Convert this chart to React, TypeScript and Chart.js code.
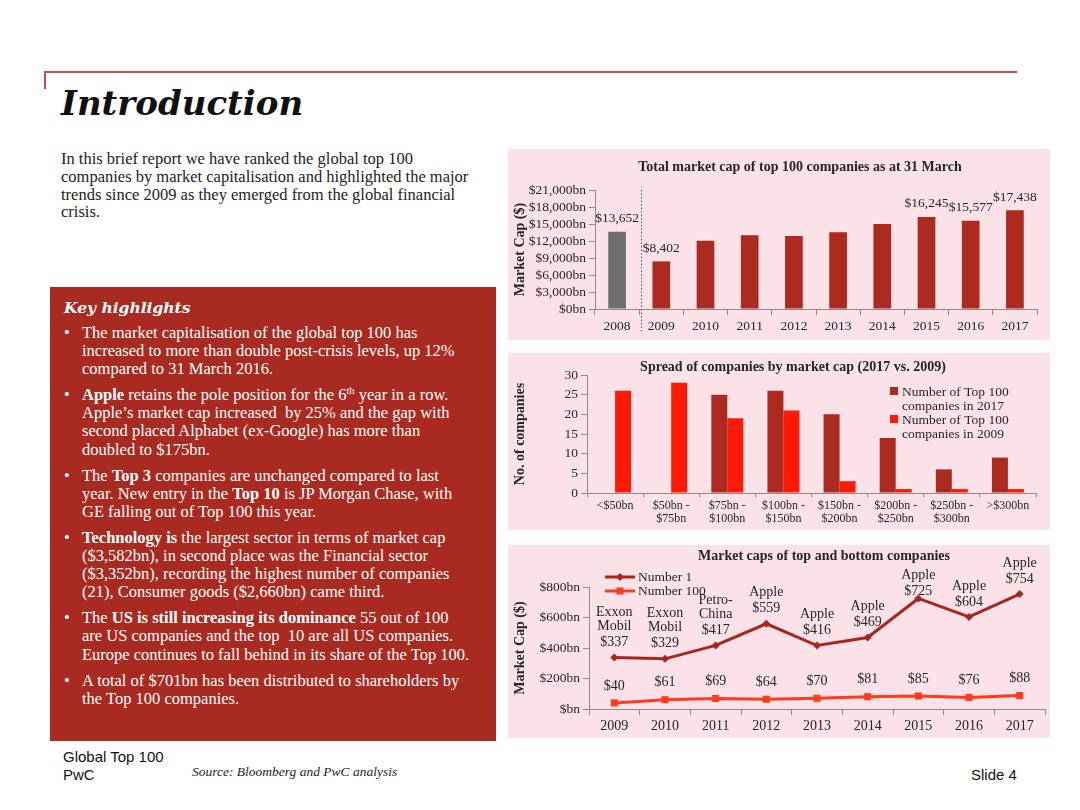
import React, { useEffect, useRef } from "react";
import { Chart, registerables } from "chart.js";

Chart.register(...registerables);

// ---------- data ----------
const capYears = ["2008", "2009", "2010", "2011", "2012", "2013", "2014", "2015", "2016", "2017"];
const capValues = [13652, 8402, 12050, 13000, 12880, 13530, 15000, 16245, 15577, 17438];
const capValueLabels = ["$13,652", "$8,402", "", "", "", "", "", "$16,245", "$15,577", "$17,438"];
const capTickLabels = ["$0bn", "$3,000bn", "$6,000bn", "$9,000bn", "$12,000bn", "$15,000bn", "$18,000bn", "$21,000bn"];

const spreadBands = [
  ["<$50bn"],
  ["$50bn -", "$75bn"],
  ["$75bn -", "$100bn"],
  ["$100bn -", "$150bn"],
  ["$150bn -", "$200bn"],
  ["$200bn -", "$250bn"],
  ["$250bn -", "$300bn"],
  [">$300bn"],
];
const companies2017 = [0, 0, 25, 26, 20, 14, 6, 9];
const companies2009 = [26, 28, 19, 21, 3, 1, 1, 1];
const spreadLegend = [
  ["Number of Top 100", "companies in 2017"],
  ["Number of Top 100", "companies in 2009"],
];

const topYears = ["2009", "2010", "2011", "2012", "2013", "2014", "2015", "2016", "2017"];
const number1Values = [337, 329, 417, 559, 416, 469, 725, 604, 754];
const number1Names = [
  ["Exxon", "Mobil"],
  ["Exxon", "Mobil"],
  ["Petro-", "China"],
  ["Apple"],
  ["Apple"],
  ["Apple"],
  ["Apple"],
  ["Apple"],
  ["Apple"],
];
const number100Values = [40, 61, 69, 64, 70, 81, 85, 76, 88];
const topTickLabels = ["$bn", "$200bn", "$400bn", "$600bn", "$800bn"];

// ---------- styles ----------
const SERIF = "'Liberation Serif', 'Times New Roman', serif";
const DSERIF = "'DejaVu Serif', serif";
const SANS = "'Liberation Sans', Arial, sans-serif";
const TEXT = "#262626";
const AXIS = "#8c8c8c";
const PINK = "#FBE2E8";
const BOX_RED = "#A92A20";
const BAR_RED = "#AD2A21";
const BAR_GRAY = "#6E6E6E";
const BRIGHT_RED = "#FF1A05";
const LINE_DARK = "#A8261E";
const LINE_BRIGHT = "#FF3B1C";
const TITLE_FONT = `bold 14px ${SERIF}`;

function titlePlugin(id: string, text: string, x: number, y: number) {
  return {
    id,
    afterDraw(chart: any) {
      const ctx = chart.ctx;
      ctx.save();
      ctx.font = TITLE_FONT;
      ctx.fillStyle = TEXT;
      ctx.textAlign = "center";
      ctx.textBaseline = "middle";
      ctx.fillText(text, x, y);
      ctx.restore();
    },
  };
}

function axisGrid() {
  return { display: true, drawOnChartArea: false, drawTicks: true, tickLength: 6, color: AXIS, lineWidth: 1 };
}

function buildCapChart(): any {
  const overlay = {
    id: "capOverlay",
    afterDatasetsDraw(chart: any) {
      const ctx = chart.ctx;
      const x = chart.scales.x;
      const area = chart.chartArea;
      const meta = chart.getDatasetMeta(0);
      ctx.save();
      const sx = Math.round((x.getPixelForValue(0) + x.getPixelForValue(1)) / 2) + 2.5;
      ctx.strokeStyle = "#555";
      ctx.lineWidth = 1;
      ctx.setLineDash([1.5, 2]);
      ctx.beginPath();
      ctx.moveTo(sx, area.top);
      ctx.lineTo(sx, area.bottom + 22);
      ctx.stroke();
      ctx.setLineDash([]);
      ctx.font = `13.5px ${SERIF}`;
      ctx.fillStyle = TEXT;
      ctx.textAlign = "center";
      ctx.textBaseline = "middle";
      meta.data.forEach((bar: any, i: number) => {
        const t = capValueLabels[i];
        if (t) ctx.fillText(t, bar.x, bar.y - 13);
      });
      ctx.restore();
    },
  };
  return {
    type: "bar",
    data: {
      labels: capYears,
      datasets: [
        {
          data: capValues,
          backgroundColor: capValues.map((_, i) => (i === 0 ? BAR_GRAY : BAR_RED)),
          borderWidth: 0,
          barPercentage: 0.8,
          categoryPercentage: 0.5,
        },
      ],
    },
    options: {
      responsive: false,
      animation: false,
      layout: { padding: { top: 41, right: 13, bottom: 0, left: 0 } },
      plugins: { legend: { display: false }, title: { display: false }, tooltip: { enabled: false } },
      scales: {
        x: {
          grid: { ...axisGrid(), offset: true },
          border: { display: true, color: AXIS },
          ticks: { font: { family: SERIF, size: 13.5 }, color: TEXT, padding: 3 },
          afterFit: (s: any) => {
            s.height = 31;
          },
        },
        y: {
          min: 0,
          max: 21000,
          ticks: {
            stepSize: 3000,
            autoSkip: false,
            font: { family: SERIF, size: 13.5 },
            color: TEXT,
            padding: 3,
            callback: (_v: any, i: number) => capTickLabels[i],
          },
          grid: axisGrid(),
          border: { display: true, color: AXIS },
          title: {
            display: true,
            text: "Market Cap ($)",
            font: { family: SERIF, size: 14, weight: "bold" },
            color: TEXT,
            padding: { top: 4, bottom: 0 },
          },
          afterFit: (s: any) => {
            s.width = 87;
          },
        },
      },
    },
    plugins: [titlePlugin("capTitle", "Total market cap of top 100 companies as at 31 March", 292, 18), overlay],
  };
}

function buildSpreadChart(): any {
  const legend = {
    id: "spreadLegend",
    afterDraw(chart: any) {
      const ctx = chart.ctx;
      ctx.save();
      ctx.font = `13.5px ${SERIF}`;
      ctx.textAlign = "left";
      ctx.textBaseline = "middle";
      const colors = [BAR_RED, BRIGHT_RED];
      spreadLegend.forEach((lines, k) => {
        const y0 = 38 + k * 28;
        ctx.fillStyle = colors[k];
        ctx.fillRect(382, y0 - 4, 8, 8);
        ctx.fillStyle = TEXT;
        lines.forEach((ln, j) => ctx.fillText(ln, 394, y0 + 1 + j * 14));
      });
      ctx.restore();
    },
  };
  return {
    type: "bar",
    data: {
      labels: spreadBands,
      datasets: [
        {
          label: "Number of Top 100 companies in 2017",
          data: companies2017,
          backgroundColor: BAR_RED,
          borderWidth: 0,
          barPercentage: 1,
          categoryPercentage: 0.57,
        },
        {
          label: "Number of Top 100 companies in 2009",
          data: companies2009,
          backgroundColor: BRIGHT_RED,
          borderWidth: 0,
          barPercentage: 1,
          categoryPercentage: 0.57,
        },
      ],
    },
    options: {
      responsive: false,
      animation: false,
      layout: { padding: { top: 22, right: 14, bottom: 0, left: 0 } },
      plugins: { legend: { display: false }, title: { display: false }, tooltip: { enabled: false } },
      scales: {
        x: {
          grid: { ...axisGrid(), tickLength: 4, offset: true },
          border: { display: true, color: AXIS },
          ticks: { font: { family: SERIF, size: 12, lineHeight: 1.1 }, color: TEXT, padding: 2, maxRotation: 0, autoSkip: false },
          afterFit: (s: any) => {
            s.height = 37;
          },
        },
        y: {
          min: 0,
          max: 30,
          ticks: { stepSize: 5, autoSkip: false, font: { family: SERIF, size: 13.5 }, color: TEXT, padding: 3 },
          grid: axisGrid(),
          border: { display: true, color: AXIS },
          title: {
            display: true,
            text: "No. of companies",
            font: { family: SERIF, size: 14, weight: "bold" },
            color: TEXT,
            padding: { top: 4, bottom: 0 },
          },
          afterFit: (s: any) => {
            s.width = 79;
          },
        },
      },
    },
    plugins: [titlePlugin("spreadTitle", "Spread of companies by market cap (2017 vs. 2009)", 285, 14), legend],
  };
}

const TOP_TITLE = "Market caps of top and bottom companies";
const TOP_TITLE_X = 316;
const TOP_TITLE_Y = 11;

function buildTopChart(): any {
  const overlay = {
    id: "topOverlay",
    afterDraw(chart: any) {
      const ctx = chart.ctx;
      ctx.save();
      ctx.font = TITLE_FONT;
      const tw = ctx.measureText(TOP_TITLE).width;
      const tLeft = TOP_TITLE_X - tw / 2 - 10;
      const tRight = TOP_TITLE_X + tw / 2 + 10;
      const minNameY = TOP_TITLE_Y + 19;
      ctx.font = `14px ${SERIF}`;
      ctx.fillStyle = TEXT;
      ctx.textAlign = "center";
      ctx.textBaseline = "middle";
      const m1 = chart.getDatasetMeta(0);
      m1.data.forEach((pt: any, i: number) => {
        const names = number1Names[i];
        let valueY = pt.y - 15;
        let nameY = pt.y - 31;
        const topName = nameY - (names.length - 1) * 14;
        if (pt.x > tLeft && pt.x < tRight && topName < minNameY) {
          const d = minNameY - topName;
          valueY += d;
          nameY += d;
        }
        ctx.fillText("$" + number1Values[i], pt.x, valueY);
        names.forEach((n, j) => {
          ctx.fillText(n, pt.x, nameY - (names.length - 1 - j) * 14);
        });
      });
      const m2 = chart.getDatasetMeta(1);
      m2.data.forEach((pt: any, i: number) => {
        ctx.fillText("$" + number100Values[i], pt.x, pt.y - 17);
      });
      // legend
      const items = [
        { label: "Number 1", color: LINE_DARK, style: "rectRot", y: 32 },
        { label: "Number 100", color: LINE_BRIGHT, style: "rect", y: 46 },
      ];
      ctx.font = `13.5px ${SERIF}`;
      ctx.textAlign = "left";
      items.forEach((it) => {
        ctx.strokeStyle = it.color;
        ctx.lineWidth = 3;
        ctx.beginPath();
        ctx.moveTo(97, it.y);
        ctx.lineTo(127, it.y);
        ctx.stroke();
        ctx.fillStyle = it.color;
        ctx.beginPath();
        if (it.style === "rect") {
          ctx.rect(112 - 3.5, it.y - 3.5, 7, 7);
        } else {
          ctx.moveTo(112, it.y - 4);
          ctx.lineTo(116, it.y);
          ctx.lineTo(112, it.y + 4);
          ctx.lineTo(108, it.y);
          ctx.closePath();
        }
        ctx.fill();
        ctx.fillStyle = TEXT;
        ctx.fillText(it.label, 130, it.y);
      });
      ctx.restore();
    },
  };
  return {
    type: "line",
    data: {
      labels: topYears,
      datasets: [
        {
          label: "Number 1",
          data: number1Values,
          borderColor: LINE_DARK,
          backgroundColor: LINE_DARK,
          borderWidth: 3,
          pointStyle: "rectRot",
          pointRadius: 4,
          pointBorderWidth: 0,
          tension: 0,
        },
        {
          label: "Number 100",
          data: number100Values,
          borderColor: LINE_BRIGHT,
          backgroundColor: LINE_BRIGHT,
          borderWidth: 3,
          pointStyle: "rect",
          pointRadius: 5,
          pointBorderWidth: 0,
          tension: 0,
        },
      ],
    },
    options: {
      responsive: false,
      animation: false,
      layout: { padding: { top: 42, right: 4, bottom: 0, left: 0 } },
      plugins: { legend: { display: false }, title: { display: false }, tooltip: { enabled: false } },
      scales: {
        x: {
          offset: true,
          grid: { ...axisGrid(), offset: true },
          border: { display: true, color: AXIS },
          ticks: { font: { family: SERIF, size: 14 }, color: TEXT, padding: 3, autoSkip: false },
          afterFit: (s: any) => {
            s.height = 29;
          },
        },
        y: {
          min: 0,
          max: 800,
          ticks: {
            stepSize: 200,
            autoSkip: false,
            font: { family: SERIF, size: 13.5 },
            color: TEXT,
            padding: 3,
            callback: (_v: any, i: number) => topTickLabels[i],
          },
          grid: axisGrid(),
          border: { display: true, color: AXIS },
          title: {
            display: true,
            text: "Market Cap ($)",
            font: { family: SERIF, size: 14, weight: "bold" },
            color: TEXT,
            padding: { top: 4, bottom: 0 },
          },
          afterFit: (s: any) => {
            s.width = 81;
          },
        },
      },
    },
    plugins: [titlePlugin("topTitle", TOP_TITLE, TOP_TITLE_X, TOP_TITLE_Y), overlay],
  };
}

function ChartPanel({ left, top, width, height, build }: any) {
  const ref = useRef<HTMLCanvasElement>(null);
  useEffect(() => {
    const chart = new Chart(ref.current as HTMLCanvasElement, build());
    return () => chart.destroy();
  }, []);
  return (
    <div style={{ position: "absolute", left, top, width, height, background: PINK }}>
      <canvas ref={ref} width={width} height={height} style={{ display: "block", width, height }} />
    </div>
  );
}

const introLines = [
  "In this brief report we have ranked the global top 100",
  "companies by market capitalisation and highlighted the major",
  "trends since 2009 as they emerged from the global financial",
  "crisis.",
];

const bullets: React.ReactNode[][] = [
  [
    "The market capitalisation of the global top 100 has",
    "increased to more than double post-crisis levels, up 12%",
    "compared to 31 March 2016.",
  ],
  [
    <>
      <b>Apple</b> retains the pole position for the 6
      <sup style={{ fontSize: 10.5, lineHeight: 0 }}>th</sup> year in a row.
    </>,
    "Apple’s market cap increased  by 25% and the gap with",
    "second placed Alphabet (ex-Google) has more than",
    "doubled to $175bn.",
  ],
  [
    <>
      The <b>Top 3</b> companies are unchanged compared to last
    </>,
    <>
      year. New entry in the <b>Top 10</b> is JP Morgan Chase, with
    </>,
    "GE falling out of Top 100 this year.",
  ],
  [
    <>
      <b>Technology is</b> the largest sector in terms of market cap
    </>,
    "($3,582bn), in second place was the Financial sector",
    "($3,352bn), recording the highest number of companies",
    "(21), Consumer goods ($2,660bn) came third.",
  ],
  [
    <>
      The <b>US is still increasing its dominance</b> 55 out of 100
    </>,
    "are US companies and the top  10 are all US companies.",
    "Europe continues to fall behind in its share of the Top 100.",
  ],
  ["A total of $701bn has been distributed to shareholders by", "the Top 100 companies."],
];

export default function App() {
  return (
    <div
      style={{
        position: "absolute",
        left: 0,
        top: 0,
        width: 1080,
        height: 810,
        overflow: "hidden",
        background: "#fff",
        fontFamily: SERIF,
        color: TEXT,
      }}
    >
      <div style={{ position: "absolute", left: 44, top: 71, width: 973, height: 2, background: "#C0504D" }} />
      <div style={{ position: "absolute", left: 44, top: 71, width: 2, height: 18, background: "#C0504D" }} />

      <div
        style={{
          position: "absolute",
          left: 61,
          top: 83,
          fontFamily: DSERIF,
          fontWeight: "bold",
          fontStyle: "italic",
          fontSize: 34,
          lineHeight: "40px",
          color: "#111",
          whiteSpace: "nowrap",
        }}
      >
        Introduction
      </div>

      <div style={{ position: "absolute", left: 61, top: 150, fontSize: 16.5, lineHeight: "17.8px", color: "#222" }}>
        {introLines.map((l, i) => (
          <div key={i} style={{ whiteSpace: "pre" }}>
            {l}
          </div>
        ))}
      </div>

      <div style={{ position: "absolute", left: 50, top: 287, width: 446, height: 454, background: BOX_RED, color: "#fff" }}>
        <div
          style={{
            position: "absolute",
            left: 14,
            top: 12,
            fontFamily: DSERIF,
            fontWeight: "bold",
            fontStyle: "italic",
            fontSize: 15.5,
            lineHeight: "18px",
            whiteSpace: "nowrap",
          }}
        >
          Key highlights
        </div>
        <div style={{ position: "absolute", left: 0, top: 37, width: 446, fontSize: 16.5, lineHeight: "18.1px" }}>
          {bullets.map((lines, i) => (
            <div key={i} style={{ position: "relative", paddingLeft: 32, marginBottom: 8 }}>
              <span style={{ position: "absolute", left: 14, top: 0 }}>•</span>
              {lines.map((l, j) => (
                <div key={j} style={{ whiteSpace: "pre" }}>
                  {l}
                </div>
              ))}
            </div>
          ))}
        </div>
      </div>

      <ChartPanel left={508} top={149} width={542} height={191} build={buildCapChart} />
      <ChartPanel left={508} top={353} width={542} height={177} build={buildSpreadChart} />
      <ChartPanel left={508} top={545} width={542} height={193} build={buildTopChart} />

      <div style={{ position: "absolute", left: 63, top: 748, fontFamily: SANS, fontSize: 15, lineHeight: "18px", color: "#111" }}>
        <div>Global Top 100</div>
        <div>PwC</div>
      </div>
      <div
        style={{
          position: "absolute",
          left: 192,
          top: 764,
          fontStyle: "italic",
          fontSize: 13.5,
          lineHeight: "16px",
          color: "#222",
          whiteSpace: "nowrap",
        }}
      >
        Source: Bloomberg and PwC analysis
      </div>
      <div style={{ position: "absolute", left: 971, top: 766, fontFamily: SANS, fontSize: 15, lineHeight: "18px", color: "#111" }}>
        Slide 4
      </div>
    </div>
  );
}
